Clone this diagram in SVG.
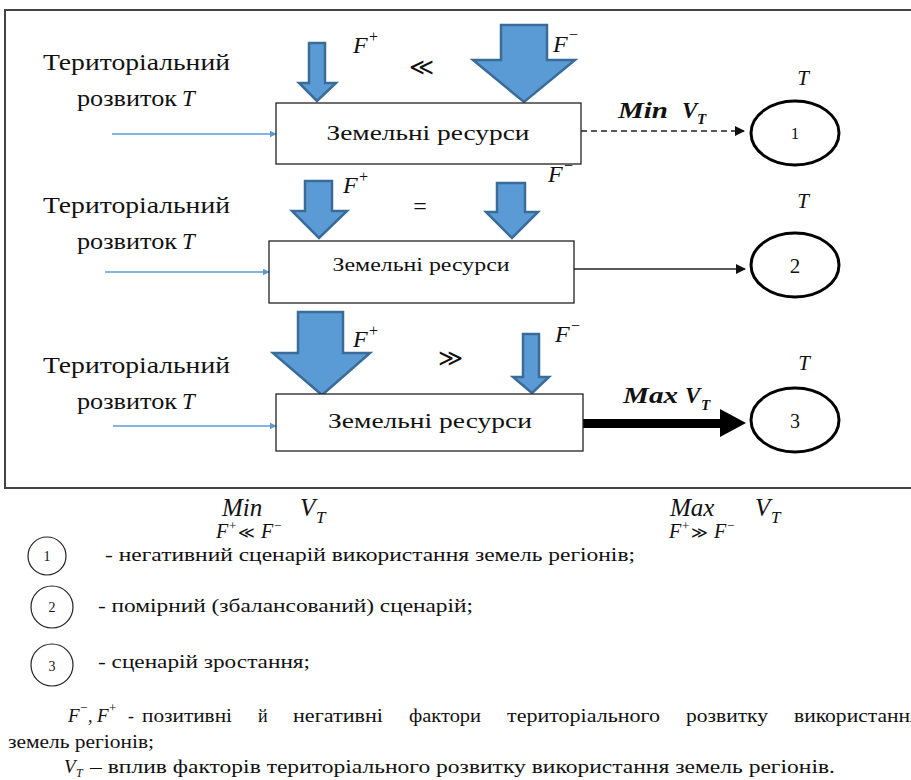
<svg xmlns="http://www.w3.org/2000/svg" width="911" height="780" viewBox="0 0 911 780">
<defs>
<style>
text{font-family:'Liberation Serif','DejaVu Serif',serif}
.t{fill:#111}
.m{font-style:italic;fill:#111}
.s{font-family:'DejaVu Serif','Liberation Serif',serif}
.bar{fill:#5B9BD5;stroke:#3A6C99;stroke-width:2.5;stroke-linejoin:miter}
.box{fill:#fff;stroke:#222;stroke-width:1.3}
.node{fill:#fff;stroke:#000;stroke-width:3}
.leg{fill:#fff;stroke:#222;stroke-width:1.2}
.in{stroke:#5B9BD5;stroke-width:1.5;fill:none}
</style>
<marker id="ab" viewBox="0 0 10 10" refX="9" refY="5" markerWidth="7" markerHeight="7" orient="auto" markerUnits="userSpaceOnUse"><path d="M0,0 L10,5 L0,10 Z" fill="#5B9BD5"/></marker>
<marker id="ak" viewBox="0 0 10 10" refX="9" refY="5" markerWidth="10" markerHeight="10" orient="auto" markerUnits="userSpaceOnUse"><path d="M0,0 L10,5 L0,10 Z" fill="#111"/></marker>
</defs>
<rect x="5" y="10" width="915" height="478" fill="#fff" stroke="#444" stroke-width="2"/>

<g id="connectors">
<line class="in" x1="112" y1="134" x2="276" y2="134" marker-end="url(#ab)"/>
<line class="in" x1="105" y1="272" x2="269" y2="272" marker-end="url(#ab)"/>
<line class="in" x1="113" y1="426" x2="276" y2="426" marker-end="url(#ab)"/>
<line x1="581" y1="131" x2="744" y2="131" stroke="#222" stroke-width="1.5" stroke-dasharray="6,4" marker-end="url(#ak)"/>
<line x1="574" y1="269" x2="745" y2="269" stroke="#222" stroke-width="1.5" marker-end="url(#ak)"/>
<rect x="583" y="419" width="140" height="9" fill="#000"/>
<polygon points="720,409 746,423 720,437" fill="#000"/>
<polygon class="bar" points="309,43 325,43 325,83 336,83 317,101 299,83 309,83"/>
<polygon class="bar" points="501,25 547,25 547,60 575,60 524,102 473,60 501,60"/>
<polygon class="bar" points="305,181 332,181 332,211 347,211 319,238 292,211 305,211"/>
<polygon class="bar" points="497,183 525,183 525,212 538,212 512,238 486,212 497,212"/>
<polygon class="bar" points="298,312 343,312 343,353 370,353 322,395 273,353 298,353"/>
<polygon class="bar" points="523,334 539,334 539,377 549,377 532,393 513,377 523,377"/>
</g>

<g id="labels">
<text class="t" x="43" y="70" font-size="23" textLength="187" lengthAdjust="spacingAndGlyphs">Територіальний</text>
<text class="t" x="77" y="106" font-size="23" textLength="100" lengthAdjust="spacingAndGlyphs">розвиток</text>
<text class="m" x="182" y="106" font-size="23">T</text>
<text class="t" x="43" y="213" font-size="23" textLength="187" lengthAdjust="spacingAndGlyphs">Територіальний</text>
<text class="t" x="77" y="249" font-size="23" textLength="100" lengthAdjust="spacingAndGlyphs">розвиток</text>
<text class="m" x="182" y="249" font-size="23">T</text>
<text class="t" x="43" y="373" font-size="23" textLength="187" lengthAdjust="spacingAndGlyphs">Територіальний</text>
<text class="t" x="77" y="409" font-size="23" textLength="100" lengthAdjust="spacingAndGlyphs">розвиток</text>
<text class="m" x="182" y="409" font-size="23">T</text>

<text class="m" x="353" y="53" font-size="24">F</text><text class="t" x="369" y="42" font-size="16">+</text>
<text class="m" x="553" y="52" font-size="24">F</text><text class="t" x="569" y="40" font-size="16">−</text>
<text class="t s" x="421" y="75" font-size="24" text-anchor="middle">≪</text>
<text class="m" x="343" y="193" font-size="24">F</text><text class="t" x="359" y="182" font-size="16">+</text>
<text class="m" x="548" y="182" font-size="24">F</text><text class="t" x="564" y="171" font-size="16">−</text>
<text class="t" x="420" y="214" font-size="24" text-anchor="middle">=</text>
<text class="m" x="353" y="347" font-size="24">F</text><text class="t" x="369" y="336" font-size="16">+</text>
<text class="m" x="555" y="342" font-size="24">F</text><text class="t" x="571" y="331" font-size="16">−</text>
<text class="t s" x="450" y="366" font-size="24" text-anchor="middle">≫</text>

<text class="m" x="618" y="118" font-size="23" font-weight="bold" textLength="50" lengthAdjust="spacingAndGlyphs">Min</text><text class="m" x="682" y="118" font-size="23" font-weight="bold">V</text><text class="m" x="697" y="124" font-size="15" font-weight="bold">T</text>
<text class="m" x="623" y="403" font-size="23" font-weight="bold" textLength="55" lengthAdjust="spacingAndGlyphs">Max</text><text class="m" x="685" y="403" font-size="23" font-weight="bold">V</text><text class="m" x="701" y="410" font-size="15" font-weight="bold">T</text>
<text class="m" x="803" y="85" font-size="21" text-anchor="middle">T</text>
<text class="m" x="803" y="208" font-size="21" text-anchor="middle">T</text>
<text class="m" x="804" y="370" font-size="21" text-anchor="middle">T</text>
</g>

<g id="box1"><rect class="box" x="276" y="103" width="305" height="61"/><text class="t" x="428" y="140" font-size="22" text-anchor="middle" textLength="203" lengthAdjust="spacingAndGlyphs">Земельні ресурси</text></g>
<g id="box2"><rect class="box" x="269" y="241" width="305" height="62"/><text class="t" x="421" y="271" font-size="19" text-anchor="middle" textLength="177" lengthAdjust="spacingAndGlyphs">Земельні ресурси</text></g>
<g id="box3"><rect class="box" x="276" y="394" width="307" height="57"/><text class="t" x="430" y="428" font-size="22" text-anchor="middle" textLength="204" lengthAdjust="spacingAndGlyphs">Земельні ресурси</text></g>

<g id="node1"><ellipse class="node" cx="795" cy="133" rx="44" ry="32"/><text class="t" x="795" y="139" font-size="17" text-anchor="middle">1</text></g>
<g id="node2"><ellipse class="node" cx="795" cy="265" rx="44" ry="32"/><text class="t" x="795" y="273" font-size="21" text-anchor="middle">2</text></g>
<g id="node3"><ellipse class="node" cx="795" cy="420" rx="44" ry="32"/><text class="t" x="795" y="428" font-size="20" text-anchor="middle">3</text></g>

<g id="formulas">
<text class="m" x="222" y="516" font-size="25">Min</text>
<text class="m" x="216" y="538" font-size="20">F</text><text class="t" x="229" y="530" font-size="13">+</text><text class="t s" x="238" y="538" font-size="16">≪</text><text class="m" x="261" y="538" font-size="20">F</text><text class="t" x="274" y="530" font-size="13">−</text>
<text class="m" x="300" y="516" font-size="25">V</text><text class="m" x="316" y="523" font-size="17">T</text>
<text class="m" x="670" y="516" font-size="25">Max</text>
<text class="m" x="669" y="538" font-size="20">F</text><text class="t" x="682" y="530" font-size="13">+</text><text class="t s" x="691" y="538" font-size="16">≫</text><text class="m" x="714" y="538" font-size="20">F</text><text class="t" x="727" y="530" font-size="13">−</text>
<text class="m" x="755" y="516" font-size="25">V</text><text class="m" x="771" y="523" font-size="17">T</text>
</g>

<g id="legend">
<circle class="leg" cx="47" cy="556" r="19"/><text class="t" x="47" y="561" font-size="14" text-anchor="middle">1</text>
<text class="t" x="105" y="561" font-size="18" textLength="530" lengthAdjust="spacingAndGlyphs">- негативний сценарій використання земель регіонів;</text>
<circle class="leg" cx="52" cy="607" r="21"/><text class="t" x="52" y="612" font-size="14" text-anchor="middle">2</text>
<text class="t" x="98" y="612" font-size="18" textLength="375" lengthAdjust="spacingAndGlyphs">- помірний (збалансований) сценарій;</text>
<circle class="leg" cx="52" cy="665" r="21"/><text class="t" x="52" y="671" font-size="14" text-anchor="middle">3</text>
<text class="t" x="98" y="668" font-size="18" textLength="212" lengthAdjust="spacingAndGlyphs">- сценарій зростання;</text>
</g>

<g id="notes">
<text class="m" x="68" y="722" font-size="19">F</text><text class="t" x="80" y="712" font-size="13">−</text><text class="t" x="88" y="722" font-size="18">,</text>
<text class="m" x="97" y="722" font-size="19">F</text><text class="t" x="109" y="712" font-size="13">+</text>
<text class="t" x="128" y="722" font-size="18">-</text>
<text class="t" x="142" y="722" font-size="18" textLength="90" lengthAdjust="spacingAndGlyphs">позитивні</text>
<text class="t" x="258" y="722" font-size="18">й</text>
<text class="t" x="293" y="722" font-size="18" textLength="90" lengthAdjust="spacingAndGlyphs">негативні</text>
<text class="t" x="409" y="722" font-size="18" textLength="72" lengthAdjust="spacingAndGlyphs">фактори</text>
<text class="t" x="507" y="722" font-size="18" textLength="153" lengthAdjust="spacingAndGlyphs">територіального</text>
<text class="t" x="686" y="722" font-size="18" textLength="82" lengthAdjust="spacingAndGlyphs">розвитку</text>
<text class="t" x="794" y="722" font-size="18" textLength="126" lengthAdjust="spacingAndGlyphs">використання</text>
<text class="t" x="8" y="748" font-size="18" textLength="146" lengthAdjust="spacingAndGlyphs">земель регіонів;</text>
<text class="m" x="64" y="773" font-size="19">V</text><text class="m" x="76" y="777" font-size="12">T</text>
<text class="t" x="90" y="773" font-size="18" textLength="745" lengthAdjust="spacingAndGlyphs">– вплив факторів територіального розвитку використання земель регіонів.</text>
</g>
</svg>
